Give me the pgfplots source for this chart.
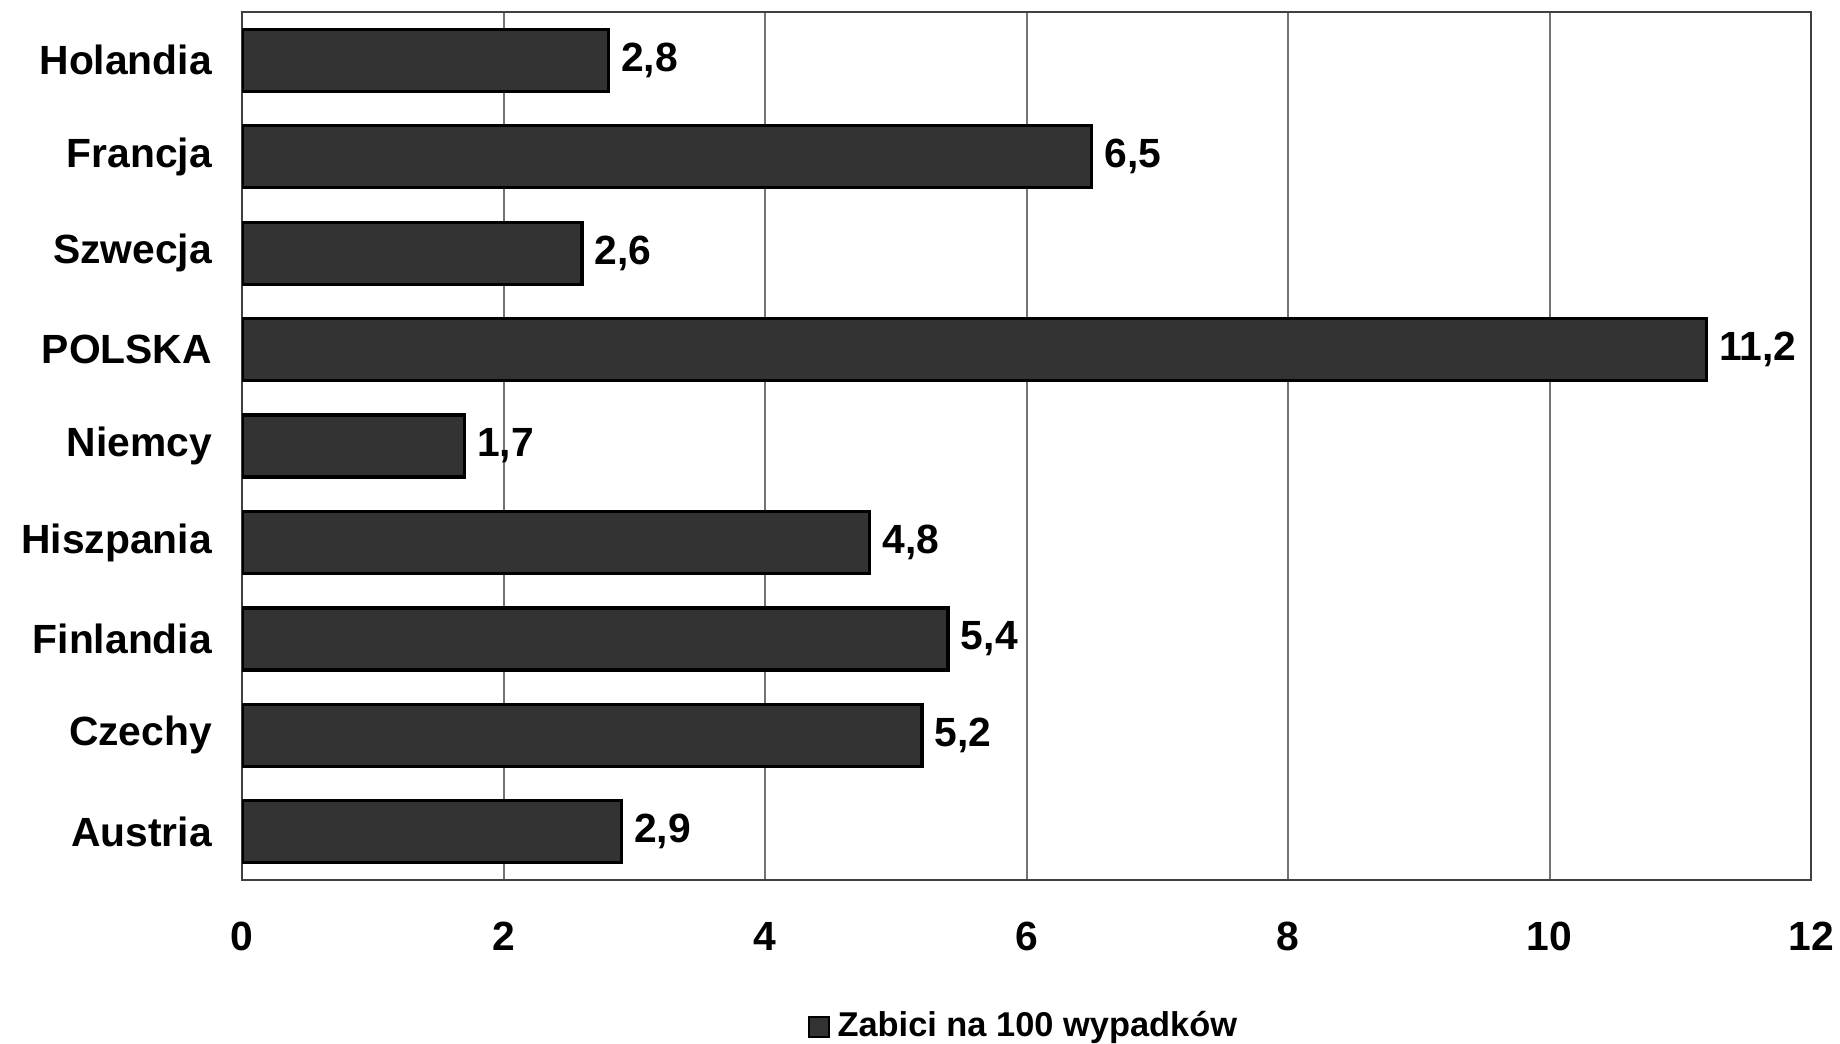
\documentclass[border=0pt]{standalone}
\usepackage{pgfplots}
\pgfplotsset{compat=1.18}
\usepackage{fontspec}
\setmainfont{Liberation Sans}
\definecolor{barc}{HTML}{333333}
\begin{document}
\begin{tikzpicture}
\begin{axis}[
  scale only axis,
  width=392.25pt, height=217pt,
  xbar, bar width=15.5pt,
  xmin=0, xmax=12, ymin=-0.5, ymax=8.5,
  xtick={0,2,...,12},
  ytick={0,...,8},
  yticklabels={Austria,Czechy,Finlandia,Hiszpania,Niemcy,POLSKA,Szwecja,Francja,Holandia},
  major tick length=0pt,
  xmajorgrids, grid style={black!55, line width=0.5pt},
  axis line style={black!75, line width=0.6pt},
  tick label style={font=\fontsize{10.2}{12}\selectfont\bfseries},
  /pgf/number format/assume math mode=true,
  xticklabel style={yshift=-7pt},
  yticklabel style={xshift=-4pt},
  nodes near coords,
  nodes near coords style={font=\fontsize{10.2}{12}\selectfont\bfseries, anchor=west, xshift=-0.5pt,
    /pgf/number format/.cd, fixed, fixed zerofill, precision=1, use comma, assume math mode=true},
  legend style={at={(0.5,0)}, anchor=center, yshift=-36.75pt, draw=none,
    font=\fontsize{8.6}{10}\selectfont\bfseries, inner sep=0pt},
  legend image code/.code={\draw[fill=barc, draw=black, line width=0.4pt] (0pt,-2.5pt) rectangle (5pt,2.5pt);},
  legend cell align=left,
]
\addplot[fill=barc, draw=black, line width=0.8pt] coordinates {
  (2.9,0) (5.2,1) (5.4,2) (4.8,3) (1.7,4) (11.2,5) (2.6,6) (6.5,7) (2.8,8)
};
\addlegendentry{Zabici na 100 wypadków}
\end{axis}
\pgfresetboundingbox
\useasboundingbox (-60.5pt,-40.75pt) rectangle (399.5pt,220pt);
\end{tikzpicture}
\end{document}
